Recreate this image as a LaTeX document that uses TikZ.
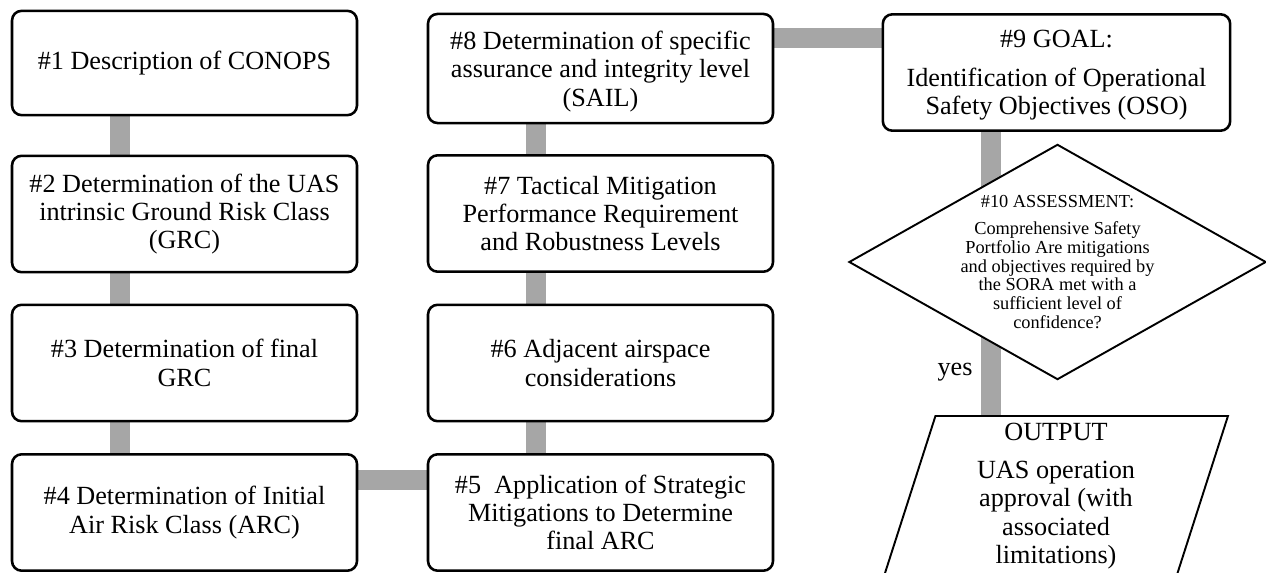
\documentclass[tikz,border=0pt]{standalone}
\usepackage{fontspec}
\setmainfont{Liberation Serif}
\usetikzlibrary{shapes.geometric,backgrounds}

\definecolor{linkgray}{RGB}{166,166,166}

\tikzset{
  stepbox/.style={draw, line width=1.2pt, rounded corners=4.5pt, fill=white, align=center,
    minimum width=5.69cm, minimum height=1.92cm, inner sep=2pt,
    font=\fontsize{12.3}{13.3}\selectfont},
  link/.style={linkgray, line width=9.4pt},
  plaintext/.style={align=center, inner sep=0pt}
}

\begin{document}
\begin{tikzpicture}[x=0.0165cm, y=-0.0165cm]

\useasboundingbox (0,0) rectangle (1266,573);

\node[stepbox, minimum height=1.72cm] (S1) at (184.5,63) {\#1 Description of CONOPS};
\node[stepbox] (S2) at (184.5,214) {\#2 Determination of the UAS\\intrinsic Ground Risk Class\\(GRC)};
\node[stepbox] (S3) at (184.5,363) {\#3 Determination of final\\GRC};
\node[stepbox] (S4) at (184.5,512.5) {\#4 Determination of Initial\\Air Risk Class (ARC)};

\node[stepbox] (S5) at (600.5,512.5) {\#5~ Application of Strategic\\Mitigations to Determine\\final ARC};
\node[stepbox] (S6) at (600.5,363) {\#6 Adjacent airspace\\considerations};
\node[stepbox] (S7) at (600.5,213.5) {\#7 Tactical Mitigation\\Performance Requirement\\and Robustness Levels};
\node[stepbox, minimum height=1.80cm, text depth=-1.1pt] (S8) at (600.5,68.5) {\#8 Determination of specific\\assurance and integrity level\\(SAIL)};

\node[stepbox, minimum width=5.73cm, text depth=-2.9pt] (S9) at (1056.5,72.5) {\#9 GOAL:\\[5pt]Identification of Operational\\Safety Objectives (OSO)};

\node[diamond, draw, line width=0.9pt, fill=white, inner sep=0pt,
  minimum width=6.88cm, minimum height=3.88cm] (assess) at (1057.5,262) {};
\node[plaintext, font=\fontsize{8.6}{8.9}\selectfont] (assesstext) at (assess.center)
  {\#10 ASSESSMENT:\\[3.8pt]Comprehensive Safety\\Portfolio Are mitigations\\and objectives required by\\the SORA met with a\\sufficient level of\\confidence?};

\node[trapezium, trapezium left angle=77, trapezium right angle=103, trapezium stretches=true,
  draw, line width=0.9pt, fill=white, inner sep=0pt, align=center,
  minimum width=5.68cm, minimum height=2.64cm,
  font=\fontsize{12.3}{13.3}\selectfont] (out) at (1056,496)
  {OUTPUT\\[4.5pt]UAS operation\\approval (with\\associated\\limitations)};

\node[plaintext, font=\fontsize{12.3}{13.3}\selectfont] (yes) at (955,372) {yes};

\begin{pgfonlayer}{background}
\draw[link] ([xshift=-1.07cm]S1.center) -- ([xshift=-1.07cm]S2.center);
\draw[link] ([xshift=-1.07cm]S2.center) -- ([xshift=-1.07cm]S3.center);
\draw[link] ([xshift=-1.07cm]S3.center) -- ([xshift=-1.07cm]S4.center);
\draw[link] ([yshift=0.54cm]S4.center) -- ([yshift=0.54cm]S5.center);
\draw[link] ([xshift=-1.06cm]S5.center) -- ([xshift=-1.06cm]S6.center);
\draw[link] ([xshift=-1.06cm]S6.center) -- ([xshift=-1.06cm]S7.center);
\draw[link] ([xshift=-1.06cm]S7.center) -- ([xshift=-1.06cm]S8.center);
\draw[link] ([yshift=0.5cm]S8.center) -- ([yshift=0.5cm]S8.center -| S9.center);
\draw[link] ([xshift=-1.08cm]S9.center) -- ([xshift=-1.08cm]S9.center |- assess.center);
\draw[link] ([xshift=-1.08cm]S9.center |- assess.center) -- ([xshift=-1.08cm]S9.center |- out.center);
\end{pgfonlayer}

\end{tikzpicture}
\end{document}
